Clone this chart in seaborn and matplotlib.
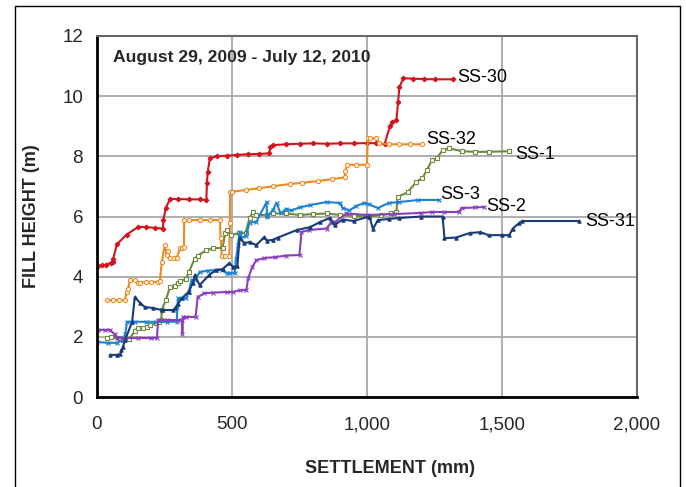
import matplotlib
matplotlib.use("Agg")
import matplotlib.pyplot as plt
import seaborn as sns
from matplotlib.lines import Line2D
from matplotlib.ticker import FuncFormatter

# Settlement (mm) vs fill height (m).
ss30_x = [4, 20, 35, 50, 59, 60, 74, 110, 152, 180, 215, 244, 246, 255, 270, 300, 340, 380, 405, 407, 410, 418, 443,
          480, 520, 560, 600, 638, 642, 650, 700, 750, 800, 850, 900, 950, 1000, 1035, 1065, 1085, 1094, 1109, 1115,
          1120, 1135, 1170, 1210, 1250, 1317]
ss30_y = [4.35, 4.38, 4.4, 4.45, 4.48, 4.6, 5.08, 5.4, 5.65, 5.65, 5.62, 5.6, 5.9, 6.28, 6.58, 6.58, 6.57, 6.57, 6.55,
          7.1, 7.48, 7.94, 8.0, 8.02, 8.05, 8.07, 8.08, 8.1, 8.3, 8.37, 8.4, 8.42, 8.43, 8.42, 8.43, 8.43, 8.44, 8.44,
          8.4, 9.0, 9.14, 9.2, 9.8, 10.3, 10.6, 10.58, 10.57, 10.56, 10.56]

ss32_x = [37, 60, 80, 103, 110, 115, 122, 140, 150, 160, 180, 200, 225, 233, 240, 251, 258, 262, 270, 285, 296, 307,
          315, 322, 323, 340, 380, 420, 455, 458, 462, 475, 490, 492, 493, 500, 550, 600, 650, 713, 760, 820, 870, 917,
          920, 927, 960, 1000, 1003, 1010, 1033, 1046, 1080, 1120, 1160, 1205]
ss32_y = [3.22, 3.22, 3.22, 3.22, 3.5, 3.6, 3.88, 3.88, 3.8, 3.8, 3.82, 3.82, 3.82, 3.85, 4.5, 5.05, 4.72, 4.85, 4.62,
          4.62, 4.62, 4.95, 4.95, 4.98, 5.88, 5.88, 5.88, 5.88, 5.88, 5.3, 4.68, 4.68, 4.68, 5.8, 6.8, 6.82, 6.88,
          6.94, 7.0, 7.08, 7.12, 7.18, 7.24, 7.3, 7.5, 7.72, 7.72, 7.72, 8.6, 8.6, 8.6, 8.44, 8.4, 8.4, 8.4, 8.4]

ss1_x = [37, 50, 80, 96, 120, 140, 150, 170, 185, 196, 220, 230, 238, 240, 255, 270, 288, 300, 306, 330, 340, 362,
         373, 405, 430, 465, 475, 480, 497, 525, 550, 565, 577, 590, 628, 650, 700, 750, 800, 850, 900, 950, 1009,
         1050, 1090, 1109, 1113, 1150, 1183, 1205, 1222, 1240, 1258, 1280, 1305, 1350, 1400, 1450, 1526]
ss1_y = [1.96, 1.98, 1.95, 1.9, 1.92, 2.2, 2.29, 2.31, 2.33, 2.4, 2.46, 2.5, 2.55, 2.9, 3.22, 3.65, 3.7, 3.8, 3.85,
         3.92, 4.15, 4.6, 4.7, 4.88, 4.95, 4.95, 5.45, 5.55, 5.38, 5.45, 5.45, 5.95, 6.15, 6.05, 6.05, 6.1, 6.1,
         6.05, 6.08, 6.1, 6.05, 6.02, 6.0, 6.05, 6.1, 6.15, 6.65, 6.8, 7.15, 7.28, 7.54, 7.87, 7.94, 8.2, 8.27,
         8.17, 8.15, 8.15, 8.17]

ss3_x = [0, 40, 75, 96, 105, 111, 140, 180, 220, 260, 295, 298, 300, 330, 340, 350, 362, 380, 410, 440, 462, 480,
         490, 510, 515, 522, 528, 535, 552, 565, 590, 628, 630, 650, 665, 680, 700, 720, 750, 790, 850, 900, 910,
         935, 960, 990, 1009, 1040, 1080, 1120, 1190, 1268]
ss3_y = [1.83, 1.8, 1.8, 1.9, 2.1, 2.5, 2.5, 2.5, 2.5, 2.5, 2.5, 3.0, 3.29, 3.29, 3.5, 3.89, 3.89, 4.15, 4.2, 4.22,
         4.22, 4.12, 4.12, 4.12, 4.6, 5.05, 5.48, 5.3, 5.35, 5.8, 5.82, 6.48, 5.98, 6.2, 6.45, 6.1, 6.25, 6.2, 6.3,
         6.38, 6.48, 6.45, 6.28, 6.2, 6.35, 6.45, 6.4, 6.28, 6.45, 6.48, 6.55, 6.55]

ss2_x = [4, 30, 48, 66, 74, 100, 150, 200, 222, 226, 260, 300, 315, 316, 318, 330, 365, 373, 398, 430, 480, 502, 530,
         553, 560, 575, 590, 620, 660, 700, 750, 757, 785, 850, 865, 880, 924, 1000, 1100, 1200, 1242, 1285, 1340,
         1350, 1400, 1434]
ss2_y = [2.23, 2.23, 2.23, 2.08, 1.96, 1.96, 1.96, 1.96, 1.96, 2.56, 2.56, 2.56, 2.56, 2.1, 2.66, 2.66, 2.66, 3.32,
         3.45, 3.47, 3.49, 3.49, 3.55, 3.55, 3.95, 4.32, 4.55, 4.62, 4.65, 4.7, 4.72, 5.48, 5.55, 5.6, 5.78, 5.81,
         6.1, 6.05, 6.08, 6.12, 6.15, 6.15, 6.15, 6.28, 6.3, 6.32]

ss31_x = [48, 75, 86, 90, 96, 104, 130, 140, 160, 177, 206, 240, 281, 290, 300, 315, 340, 355, 362, 380, 415, 440,
          465, 490, 505, 520, 528, 545, 565, 590, 620, 628, 650, 670, 740, 790, 825, 862, 880, 910, 950, 1009, 1022,
          1040, 1080, 1120, 1200, 1280, 1287, 1330, 1380, 1420, 1450, 1500, 1527, 1540, 1563, 1575, 1786]
ss31_y = [1.4, 1.4, 1.42, 1.55, 1.66, 1.9, 2.49, 3.32, 3.12, 2.99, 2.96, 2.89, 2.89, 2.95, 3.1, 3.29, 3.5, 3.79,
          4.05, 3.72, 4.05, 4.22, 4.25, 4.45, 4.32, 4.35, 5.28, 5.12, 5.15, 5.05, 5.32, 5.2, 5.22, 5.3, 5.55, 5.65,
          5.81, 5.95, 5.72, 5.9, 5.85, 6.0, 5.58, 5.88, 5.92, 5.95, 6.0, 6.0, 5.28, 5.3, 5.45, 5.48, 5.38, 5.38,
          5.38, 5.6, 5.78, 5.85, 5.85]

series_names = ["SS-30", "SS-32", "SS-1", "SS-3", "SS-2", "SS-31"]
series_x = [ss30_x, ss32_x, ss1_x, ss3_x, ss2_x, ss31_x]
series_y = [ss30_y, ss32_y, ss1_y, ss3_y, ss2_y, ss31_y]

# label anchor positions (data coords)
label_x = [1335, 1218, 1548, 1270, 1443, 1808]
label_y = [10.62, 8.55, 8.05, 6.72, 6.32, 5.82]

x_ticks = [0, 500, 1000, 1500, 2000]
y_ticks = [0, 2, 4, 6, 8, 10, 12]

colors = ["#D4141C", "#F08A1E", "#6E8B3D", "#1C82D2", "#8A3FC0", "#1A3A78"]
markers = ["D", "o", "s", "x", "x", "^"]
fills = [True, False, False, True, True, True]

sns.set_style("white")
plt.rcParams["font.family"] = ["Liberation Sans", "DejaVu Sans"]

fig = plt.figure(figsize=(6.86, 4.87), dpi=100)
ax = fig.add_axes([97 / 686, 90 / 487, 540 / 686, 361 / 487])

for name, xs, ys, c, m, f in zip(series_names, series_x, series_y, colors, markers, fills):
    sns.lineplot(x=xs, y=ys, ax=ax, sort=False, estimator=None, color=c, lw=1.5,
                 marker=m, markersize=2.4 if f else 3.0,
                 markerfacecolor=c if f else "white", markeredgecolor=c, markeredgewidth=0.8)

for name, lx, ly in zip(series_names, label_x, label_y):
    ax.text(lx, ly, name, fontsize=13, va="center", ha="left", color="black")

ax.text(60, 11.3, "August 29, 2009 - July 12, 2010", fontsize=12.6, fontweight="bold", va="center", ha="left")

ax.set_xlim(0, 2000)
ax.set_ylim(0, 12)
ax.set_xticks(x_ticks)
ax.set_yticks(y_ticks)
ax.xaxis.set_major_formatter(FuncFormatter(lambda v, p: f"{int(v):,}"))
ax.grid(True, color="#A8A8A8", lw=1.3)
ax.set_axisbelow(True)
ax.tick_params(axis="both", labelsize=13.5, length=4, width=1.2, color="black", direction="inout")
ax.tick_params(axis="x", pad=12)
ax.tick_params(axis="y", pad=8)

for side in ["top", "right"]:
    ax.spines[side].set_color("#666666")
    ax.spines[side].set_linewidth(1.5)
for side in ["left", "bottom"]:
    ax.spines[side].set_color("black")
    ax.spines[side].set_linewidth(2)

ax.set_xlabel("SETTLEMENT (mm)", fontsize=13, fontweight="bold")
ax.set_ylabel("FILL HEIGHT (m)", fontsize=13, fontweight="bold")
ax.xaxis.set_label_coords(0.543, -0.174)
ax.yaxis.set_label_coords(-0.106, 0.5)

# outer frame around the chart
frame_kw = dict(color="black", lw=1.0, transform=fig.transFigure)
fig.add_artist(Line2D([15 / 686, 15 / 686], [0, 1 - 6 / 487], **frame_kw))
fig.add_artist(Line2D([15 / 686, 680 / 686], [1 - 6 / 487, 1 - 6 / 487], **frame_kw))
fig.add_artist(Line2D([680 / 686, 680 / 686], [0, 1 - 6 / 487], **frame_kw))

fig.savefig("out.png", dpi=100)
plt.close(fig)
